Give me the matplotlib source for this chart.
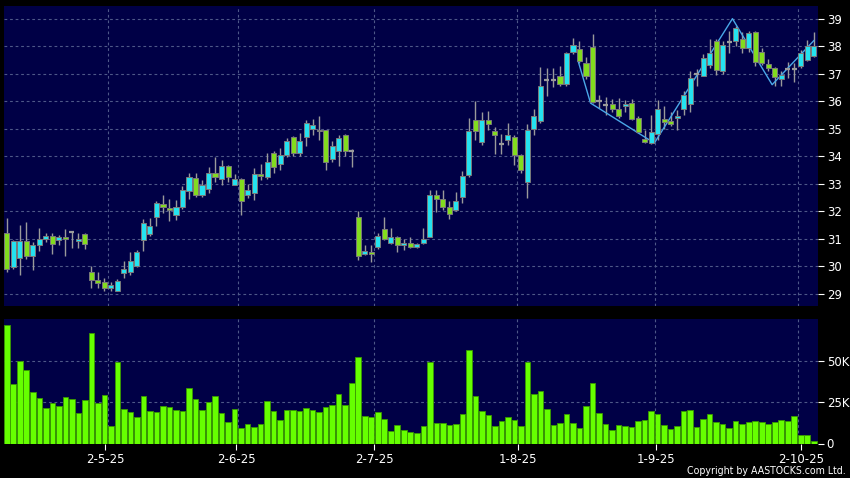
import matplotlib
matplotlib.use("Agg")
import matplotlib.pyplot as plt
from matplotlib import font_manager
import numpy as np
import os

# ---------------- data ----------------
opens = [31.21, 29.97, 30.30, 30.92, 30.36, 30.77, 30.99, 31.10, 30.95, 31.06,
         31.24, 30.92, 31.17, 29.79, 29.50, 29.45, 29.21, 29.11, 29.75, 29.78,
         30.03, 30.94, 31.18, 31.79, 32.26, 32.13, 31.85, 32.17, 32.72, 33.21,
         32.59, 32.81, 33.39, 33.19, 33.65, 32.97, 33.17, 32.58, 32.68, 33.36,
         33.24, 34.12, 33.72, 34.05, 34.70, 34.12, 34.70, 34.99, 34.96, 34.94,
         33.90, 34.19, 34.77, 34.20, 31.79, 30.44, 30.52, 30.70, 31.36, 30.84,
         31.05, 30.77, 30.84, 30.70, 30.84, 31.08, 32.60, 32.45, 32.17, 32.03,
         32.52, 33.33, 35.30, 34.52, 35.30, 34.90, 34.44, 34.59, 34.70, 34.04,
         33.08, 34.99, 35.28, 36.77, 36.77, 36.90, 36.62, 37.79, 37.90, 37.39,
         37.97, 35.99, 35.85, 35.90, 35.72, 35.84, 35.93, 35.39, 34.62, 34.50,
         34.81, 35.35, 35.29, 35.39, 35.72, 35.91, 37.00, 36.93, 37.33, 38.18,
         37.08, 38.14, 38.20, 38.26, 37.93, 38.50, 37.79, 37.35, 37.21, 36.82,
         37.18, 37.18, 37.29, 37.51, 37.65]
highs = [31.75, 30.95, 31.51, 31.62, 30.90, 31.39, 31.21, 31.21, 31.13, 31.35,
         31.24, 31.20, 31.20, 30.02, 29.80, 29.56, 29.44, 29.55, 30.20, 30.52,
         30.60, 31.73, 31.75, 32.39, 32.60, 32.45, 32.42, 32.93, 33.39, 33.39,
         33.15, 33.61, 33.97, 33.87, 33.67, 33.36, 33.20, 32.99, 33.57, 33.73,
         34.12, 34.18, 34.30, 34.68, 34.72, 34.84, 35.33, 35.36, 35.47, 34.96,
         34.54, 34.78, 34.80, 34.26, 32.02, 30.78, 30.78, 31.21, 31.79, 31.41,
         31.10, 30.99, 31.08, 30.85, 31.39, 32.78, 32.78, 32.78, 32.38, 32.70,
         33.48, 35.39, 36.02, 35.60, 35.65, 35.05, 34.80, 35.20, 34.78, 34.10,
         35.18, 35.73, 37.24, 37.20, 37.20, 37.29, 37.80, 38.30, 38.20, 37.60,
         38.45, 36.24, 36.15, 36.08, 36.12, 36.05, 36.08, 35.45, 34.96, 35.51,
         36.05, 35.81, 35.61, 35.69, 36.36, 37.08, 37.17, 37.70, 38.26, 38.26,
         38.20, 38.54, 38.75, 38.50, 38.55, 38.55, 37.93, 37.55, 37.25, 37.10,
         37.44, 37.39, 37.85, 38.21, 38.50]
lows = [29.79, 29.90, 29.69, 30.26, 29.87, 30.57, 30.87, 30.44, 30.78, 30.39,
        30.68, 30.66, 30.64, 29.23, 29.22, 29.12, 29.12, 29.10, 29.57, 29.69,
        29.98, 30.57, 31.12, 31.47, 31.95, 31.63, 31.69, 32.09, 32.44, 32.52,
        32.52, 32.68, 33.06, 32.95, 33.05, 32.95, 31.85, 32.48, 32.42, 33.15,
        33.17, 33.41, 33.51, 33.99, 34.00, 34.00, 34.39, 34.77, 34.58, 33.49,
        33.78, 33.63, 34.02, 33.60, 30.24, 30.40, 30.15, 30.63, 30.95, 30.80,
        30.54, 30.60, 30.68, 30.66, 30.82, 31.05, 31.96, 32.05, 31.71, 32.00,
        32.30, 33.24, 34.60, 34.40, 34.96, 34.10, 34.09, 34.42, 33.69, 33.39,
        32.47, 34.78, 35.20, 36.19, 36.50, 36.55, 36.55, 37.70, 37.40, 36.80,
        35.93, 35.75, 35.51, 35.60, 35.40, 35.60, 35.30, 34.85, 34.48, 34.45,
        34.60, 35.00, 35.10, 34.96, 35.51, 35.60, 36.54, 36.90, 37.20, 36.96,
        37.00, 37.75, 38.00, 37.75, 37.80, 37.27, 37.30, 37.10, 36.56, 36.57,
        36.84, 36.68, 37.20, 37.45, 37.60]
closes = [29.90, 30.92, 30.92, 30.36, 30.77, 30.99, 31.10, 30.83, 31.06, 30.99,
          31.24, 30.99, 30.81, 29.50, 29.39, 29.22, 29.31, 29.47, 29.90, 30.20,
          30.52, 31.57, 31.45, 32.32, 32.15, 32.03, 32.17, 32.78, 33.23, 32.59,
          32.96, 33.39, 33.24, 33.65, 33.23, 33.17, 32.38, 32.78, 33.36, 33.27,
          33.78, 33.61, 34.04, 34.57, 34.12, 34.57, 35.21, 35.12, 34.92, 33.80,
          34.37, 34.68, 34.19, 34.20, 30.39, 30.55, 30.44, 31.11, 30.99, 31.06,
          30.78, 30.84, 30.70, 30.81, 30.99, 32.59, 32.45, 32.15, 31.90, 32.37,
          33.30, 34.92, 34.90, 35.30, 35.17, 34.77, 34.44, 34.76, 34.04, 33.50,
          34.95, 35.48, 36.54, 36.77, 36.77, 36.62, 37.75, 38.03, 37.47, 36.92,
          35.96, 35.99, 35.85, 35.72, 35.47, 35.91, 35.36, 34.88, 34.52, 34.87,
          35.72, 35.24, 35.17, 35.47, 36.21, 36.84, 37.00, 37.56, 37.75, 37.15,
          38.05, 38.14, 38.65, 37.93, 38.47, 37.42, 37.39, 37.21, 36.88, 36.96,
          37.18, 37.18, 37.75, 38.00, 38.00]
volumes_k = [71.6, 36.3, 50.0, 44.4, 31.3, 27.4, 21.8, 24.8, 23.0, 28.4,
             26.8, 18.4, 26.6, 66.8, 24.6, 29.2, 10.9, 49.2, 21.0, 18.8,
             15.9, 28.6, 19.6, 19.2, 22.6, 22.2, 20.2, 19.8, 33.7, 26.8,
             20.4, 25.0, 28.8, 18.4, 13.1, 20.8, 9.1, 12.1, 10.1, 12.1,
             26.0, 19.8, 14.3, 20.2, 20.2, 19.6, 21.8, 20.6, 19.0, 22.0,
             23.2, 30.1, 23.2, 36.5, 52.4, 16.7, 16.3, 19.2, 14.9, 7.5,
             11.1, 8.1, 6.7, 6.3, 10.5, 49.4, 12.5, 12.5, 11.1, 11.7,
             17.7, 56.5, 28.6, 19.6, 17.1, 10.9, 13.7, 15.9, 14.5, 10.5,
             49.4, 29.9, 31.7, 20.8, 11.5, 12.5, 18.0, 12.7, 9.3, 23.0,
             36.9, 18.4, 11.7, 8.1, 11.3, 10.7, 10.1, 13.9, 14.1, 19.6,
             17.7, 11.5, 8.7, 10.5, 19.6, 20.4, 10.3, 15.1, 18.0, 13.1,
             11.9, 9.7, 13.7, 12.1, 13.0, 13.5, 13.3, 11.9, 12.9, 14.1,
             13.7, 16.5, 5.0, 5.2, 1.8]
zigzag_x = [87.8, 89.7, 99.5, 111.5, 117.6, 124.0]
zigzag_y = [37.45, 35.93, 34.48, 39.0, 36.6, 38.2]
date_labels = ["2-5-25", "2-6-25", "2-7-25", "1-8-25", "1-9-25", "2-10-25"]
date_tick_pos = [15.14, 35.27, 56.48, 78.6, 99.8, 122.0]
date_grid_pos = [15.6, 35.6, 56.5, 78.45, 99.55, 121.55]
price_ticks = [29, 30, 31, 32, 33, 34, 35, 36, 37, 38, 39]
vol_ticks_k = [0, 25, 50]
vol_tick_labels = ["0", "25K", "50K"]
copyright_text = "Copyright by AASTOCKS.com Ltd."

# ---------------- style ----------------
BG = "#000000"
PANEL = "#000046"
GRID = "#4e5888"
UP = "#24e2f0"
DOWN = "#82dc1e"
DOJI = "#9a9a9a"
EDGE = "#7a7a7a"
VOLC = "#66ff00"
TXT = "#ffffff"

# pick a narrow font for the copyright line if one is installed
narrow_fp = None
for fe in font_manager.fontManager.ttflist:
    base = os.path.basename(fe.fname)
    if base == "DejaVuSansCondensed.ttf":
        narrow_fp = font_manager.FontProperties(fname=fe.fname)
        break
if narrow_fp is None:
    for fe in font_manager.fontManager.ttflist:
        if fe.name == "Liberation Sans Narrow" and fe.style == "normal" and fe.weight in (400, "normal", "regular"):
            narrow_fp = font_manager.FontProperties(fname=fe.fname)
            break
if narrow_fp is None:
    narrow_fp = font_manager.FontProperties(family="DejaVu Sans")

W, H = 850, 478
fig = plt.figure(figsize=(W / 100, H / 100), dpi=100, facecolor=BG)

def ax_rect(x0, y0, x1, y1):
    return [x0 / W, 1 - y1 / H, (x1 - x0) / W, (y1 - y0) / H]

axp = fig.add_axes(ax_rect(4.3, 5.7, 817.7, 306))
axv = fig.add_axes(ax_rect(4.3, 319, 817.7, 443.5))

n = len(opens)
x = np.arange(n)
o = np.array(opens); c = np.array(closes); hi = np.array(highs); lo = np.array(lows)
xlim = (-0.38, 124.6)
dash = (0, (2.5, 2.5))

for ax in (axp, axv):
    ax.set_facecolor(PANEL)
    for s in ax.spines.values():
        s.set_visible(False)
    ax.set_xlim(*xlim)
    ax.grid(False)
    for p in date_grid_pos:
        ax.axvline(p, color=GRID, lw=0.8, ls=dash, zorder=0.5)

# price panel
axp.set_ylim(28.56, 39.47)
for t in price_ticks:
    axp.axhline(t, color=GRID, lw=0.8, ls=dash, zorder=0.5)

bw = 0.78
axp.vlines(x, lo, hi, color=DOJI, lw=1.0, zorder=2)
axp.plot(zigzag_x, zigzag_y, color="#4aa8e8", lw=1.0, zorder=2.5)
up = c > o
dn = c < o
dj = c == o
axp.bar(x[up], (c - o)[up], bottom=o[up], width=bw, color=UP, edgecolor=EDGE, lw=0.7, zorder=3)
axp.bar(x[dn], (o - c)[dn], bottom=c[dn], width=bw, color=DOWN, edgecolor=EDGE, lw=0.7, zorder=3)
axp.hlines(c[dj], x[dj] - bw / 2, x[dj] + bw / 2, color=DOJI, lw=1.6, zorder=3)

axp.yaxis.tick_right()
axp.set_yticks(price_ticks)
axp.set_yticklabels([str(t) for t in price_ticks])
axp.set_xticks([])
axp.tick_params(axis="y", colors=TXT, labelcolor=TXT, length=4.5, width=0.8, pad=2,
                labelsize=8.5, direction="out")

# volume panel
vol = np.array(volumes_k) * 1000
axv.set_ylim(0, 75500)
for t in vol_ticks_k[1:]:
    axv.axhline(t * 1000, color=GRID, lw=0.8, ls=dash, zorder=0.5)
axv.bar(x, vol, width=0.86, color=VOLC, edgecolor="#3a9a00", lw=0.6, zorder=3)
axv.yaxis.tick_right()
axv.set_yticks([t * 1000 for t in vol_ticks_k])
axv.set_yticklabels(vol_tick_labels)
axv.set_xticks(date_tick_pos)
axv.set_xticklabels(date_labels)
axv.tick_params(axis="y", colors=TXT, labelcolor=TXT, length=4.5, width=0.8, pad=2,
                labelsize=8.5, direction="out")
axv.tick_params(axis="x", colors=TXT, labelcolor=TXT, length=4, width=0.8, pad=3,
                labelsize=8.5, direction="out")

# copyright, fitted to the reference width (about 159 px), capped in size
ct = fig.text(845.5 / W, 1 - 471 / H, copyright_text, color=TXT,
              ha="right", va="center", fontproperties=narrow_fp)
ct.set_fontsize(8.5)
renderer = fig.canvas.get_renderer()
wpx = ct.get_window_extent(renderer).width
if wpx > 0:
    ct.set_fontsize(min(9.5, 8.5 * 159.0 / wpx))

fig.savefig("out.png", dpi=100, facecolor=BG)
